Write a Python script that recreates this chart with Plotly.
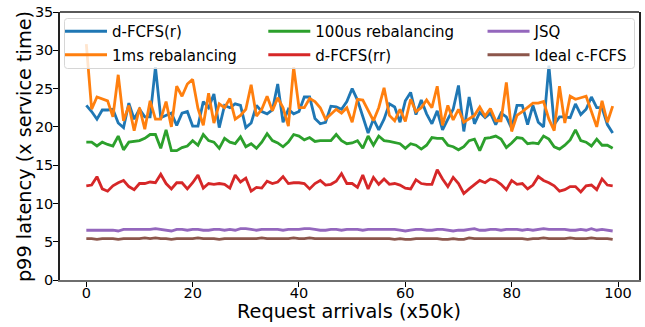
import plotly.graph_objects as go

x = list(range(100))

dfcfs_r = [22.8, 22.0, 21.0, 22.2, 22.2, 22.3, 20.5, 19.9, 23.1, 21.0,
           22.3, 21.3, 21.3, 27.8, 21.2, 21.5, 21.8, 20.2, 21.8, 22.0,
           20.1, 20.1, 23.3, 22.5, 24.3, 19.9, 22.8, 22.5, 23.0, 22.8,
           19.9, 20.5, 22.8, 22.0, 21.7, 22.2, 25.6, 20.6, 22.3, 21.7,
           22.0, 23.9, 23.9, 21.1, 20.4, 20.6, 22.7, 22.6, 22.3, 23.3,
           25.0, 23.5, 21.4, 19.2, 21.0, 19.6, 21.0, 23.0, 22.6, 20.6,
           23.4, 24.5, 21.6, 23.5, 21.7, 20.4, 22.1, 19.6, 21.0, 22.3,
           25.4, 19.4, 23.9, 20.4, 21.9, 21.2, 21.8, 20.3, 21.8, 21.3,
           19.8, 22.8, 22.8, 20.3, 22.8, 20.6, 20.0, 28.0, 20.3, 21.3,
           21.3, 21.2, 23.0, 21.6, 22.3, 23.9, 22.5, 22.5, 20.3, 19.2]

reb_1ms = [30.8, 22.3, 23.9, 23.6, 23.4, 21.3, 26.8, 20.8, 22.8, 19.5,
           22.5, 19.7, 23.4, 21.0, 21.0, 23.3, 20.0, 25.3, 24.0, 25.6,
           26.2, 22.4, 20.2, 24.4, 20.5, 23.0, 22.5, 23.7, 21.0, 21.5,
           22.3, 25.5, 21.4, 22.3, 24.0, 22.1, 23.8, 22.5, 20.1, 27.8,
           22.5, 22.5, 23.7, 23.3, 22.5, 21.0, 21.7, 22.3, 21.8, 22.5,
           20.6, 23.6, 23.5, 22.2, 20.8, 22.5, 25.1, 21.5, 20.8, 22.3,
           20.7, 23.6, 22.0, 22.5, 23.5, 22.5, 25.3, 20.2, 22.8, 20.9,
           22.3, 20.6, 21.0, 21.5, 22.6, 21.4, 22.4, 20.8, 20.8, 25.8,
           19.4, 21.5, 22.0, 22.6, 23.1, 23.1, 23.3, 21.0, 19.5, 25.3,
           20.5, 24.0, 23.6, 23.8, 24.0, 22.0, 20.0, 23.4, 20.6, 22.7]

reb_100us = [18.0, 18.0, 17.5, 18.0, 17.7, 17.5, 18.8, 17.0, 18.0, 18.1,
             18.2, 18.5, 19.0, 19.0, 17.2, 19.6, 16.9, 16.9, 17.3, 17.5,
             18.2, 17.6, 19.0, 18.2, 18.0, 17.2, 18.5, 18.0, 17.8, 18.7,
             17.4, 17.8, 17.2, 18.0, 19.1, 18.2, 17.9, 17.4, 18.0, 19.0,
             18.8, 18.3, 18.6, 18.1, 18.2, 18.2, 18.2, 19.0, 18.2, 17.8,
             17.9, 18.2, 17.2, 18.8, 17.6, 18.8, 18.2, 18.1, 17.9, 17.8,
             17.2, 17.8, 17.6, 17.1, 17.6, 18.6, 18.5, 18.5, 17.6, 17.4,
             17.0, 17.4, 18.2, 18.4, 16.9, 18.5, 18.6, 18.8, 18.4, 17.3,
             17.9, 18.6, 18.5, 17.8, 17.9, 17.8, 18.8, 18.4, 17.4, 17.1,
             17.6, 18.3, 19.6, 18.2, 18.0, 17.5, 18.4, 17.6, 17.6, 17.2]

dfcfs_rr = [12.3, 12.4, 13.5, 11.9, 11.6, 12.3, 12.7, 13.0, 12.2, 11.8,
            12.6, 12.6, 12.8, 12.7, 13.8, 12.6, 11.9, 12.7, 12.7, 11.9,
            12.7, 13.7, 12.0, 12.6, 12.5, 12.6, 12.5, 12.0, 13.7, 12.8,
            13.3, 11.6, 12.1, 12.0, 12.9, 12.6, 12.8, 13.5, 12.6, 12.7,
            12.7, 12.6, 11.9, 12.6, 13.0, 12.4, 12.5, 12.9, 13.9, 12.6,
            12.6, 12.1, 13.7, 11.9, 13.4, 12.5, 13.2, 12.5, 12.6, 12.4,
            12.0, 11.9, 13.1, 12.6, 12.5, 12.5, 14.4, 13.2, 12.2, 13.4,
            12.6, 11.3, 11.9, 12.4, 13.0, 12.7, 13.2, 13.0, 12.5, 11.8,
            13.0, 12.5, 12.6, 11.9, 12.4, 13.5, 13.0, 12.7, 12.3, 11.6,
            11.8, 12.2, 12.2, 11.5, 12.3, 12.4, 11.8, 13.2, 12.4, 12.3]

jsq = [6.5, 6.5, 6.5, 6.5, 6.5, 6.5, 6.4, 6.6, 6.6, 6.6,
       6.6, 6.6, 6.6, 6.7, 6.6, 6.5, 6.4, 6.6, 6.6, 6.5,
       6.6, 6.6, 6.5, 6.5, 6.6, 6.6, 6.5, 6.6, 6.5, 6.7,
       6.7, 6.6, 6.5, 6.6, 6.6, 6.6, 6.6, 6.5, 6.6, 6.6,
       6.6, 6.7, 6.7, 6.6, 6.5, 6.5, 6.6, 6.6, 6.5, 6.6,
       6.6, 6.6, 6.5, 6.6, 6.6, 6.6, 6.6, 6.6, 6.6, 6.5,
       6.4, 6.5, 6.6, 6.6, 6.5, 6.5, 6.6, 6.6, 6.5, 6.4,
       6.5, 6.5, 6.6, 6.7, 6.5, 6.5, 6.6, 6.6, 6.5, 6.6,
       6.6, 6.6, 6.5, 6.6, 6.5, 6.6, 6.7, 6.6, 6.6, 6.6,
       6.6, 6.5, 6.5, 6.6, 6.5, 6.7, 6.5, 6.6, 6.5, 6.4]

ideal = [5.4, 5.4, 5.3, 5.4, 5.4, 5.4, 5.3, 5.4, 5.4, 5.4,
         5.4, 5.5, 5.4, 5.5, 5.4, 5.4, 5.3, 5.4, 5.4, 5.4,
         5.4, 5.5, 5.4, 5.4, 5.4, 5.3, 5.4, 5.4, 5.4, 5.4,
         5.4, 5.4, 5.4, 5.5, 5.4, 5.4, 5.4, 5.4, 5.4, 5.5,
         5.4, 5.4, 5.5, 5.4, 5.4, 5.4, 5.4, 5.4, 5.4, 5.4,
         5.4, 5.4, 5.4, 5.4, 5.4, 5.4, 5.4, 5.4, 5.3, 5.4,
         5.3, 5.3, 5.4, 5.4, 5.4, 5.4, 5.4, 5.3, 5.3, 5.4,
         5.3, 5.3, 5.5, 5.4, 5.4, 5.4, 5.4, 5.4, 5.4, 5.4,
         5.4, 5.4, 5.4, 5.3, 5.4, 5.4, 5.5, 5.4, 5.4, 5.4,
         5.4, 5.5, 5.4, 5.4, 5.4, 5.5, 5.4, 5.4, 5.4, 5.3]

x_ticks = [0, 20, 40, 60, 80, 100]
y_ticks = [0, 5, 10, 15, 20, 25, 30, 35]
x_title = "Request arrivals (x50k)"
y_title = "p99 latency (x service time)"

series = [
    ("d-FCFS(r)", dfcfs_r, "#1f77b4", "legend"),
    ("1ms rebalancing", reb_1ms, "#ff7f0e", "legend"),
    ("100us rebalancing", reb_100us, "#2ca02c", "legend2"),
    ("d-FCFS(rr)", dfcfs_rr, "#d62728", "legend2"),
    ("JSQ", jsq, "#9467bd", "legend3"),
    ("Ideal c-FCFS", ideal, "#8c564b", "legend3"),
]

fig = go.Figure()
for name, vals, color, leg in series:
    fig.add_trace(go.Scatter(
        x=x, y=vals, mode="lines", name=name,
        line=dict(color=color, width=2.8),
        legend=leg, legendgroup=name,
    ))

font = "DejaVu Sans"
W, H = 645, 327
L, R, T, B = 60, 4, 12, 47
pw, ph = W - L - R, H - T - B


def px_x(p):
    return (p - L) / pw


def px_y(p):
    return 1 - (p - T) / ph


leg_common = dict(
    orientation="v", yanchor="top", xanchor="left",
    bgcolor="rgba(0,0,0,0)", borderwidth=0,
    font=dict(family=font, size=15, color="black"),
    tracegroupgap=1, itemwidth=42,
)

fig.update_layout(
    width=W, height=H,
    margin=dict(l=L, r=R, t=T, b=B),
    paper_bgcolor="white", plot_bgcolor="white",
    font=dict(family=font, size=14.5, color="black"),
    showlegend=True,
    legend=dict(x=px_x(60), y=px_y(15), **leg_common),
    legend2=dict(x=px_x(264), y=px_y(15), **leg_common),
    legend3=dict(x=px_x(484), y=px_y(15), **leg_common),
    shapes=[
        dict(type="path", xref="paper", yref="paper", layer="above",
             path=(f"M {px_x(67.5)},{px_y(18.5)} L {px_x(633.5)},{px_y(18.5)} "
                   f"Q {px_x(636.5)},{px_y(18.5)} {px_x(636.5)},{px_y(21.5)} "
                   f"L {px_x(636.5)},{px_y(65.5)} "
                   f"Q {px_x(636.5)},{px_y(68.5)} {px_x(633.5)},{px_y(68.5)} "
                   f"L {px_x(67.5)},{px_y(68.5)} "
                   f"Q {px_x(64.5)},{px_y(68.5)} {px_x(64.5)},{px_y(65.5)} "
                   f"L {px_x(64.5)},{px_y(21.5)} "
                   f"Q {px_x(64.5)},{px_y(18.5)} {px_x(67.5)},{px_y(18.5)} Z"),
             line=dict(color="#d6d6d6", width=1),
             fillcolor="rgba(255,255,255,0.8)"),
        dict(type="line", xref="paper", yref="paper", layer="above",
             x0=0, x1=1, y0=1, y1=1, line=dict(color="#222", width=1.5)),
    ],
    annotations=[
        dict(text=x_title, xref="paper", yref="paper",
             x=px_x(350), y=px_y(311), xanchor="center", yanchor="middle",
             showarrow=False, font=dict(family=font, size=19.3, color="black")),
        dict(text=y_title, xref="paper", yref="paper", textangle=-90,
             x=px_x(24), y=px_y(147), xanchor="center", yanchor="middle",
             showarrow=False, font=dict(family=font, size=19.3, color="black")),
    ],
    xaxis=dict(
        range=[-4.95, 103.95], tickvals=x_ticks,
        showgrid=False, zeroline=False,
        showline=True, linecolor="#6e6e6e", linewidth=2, mirror=False,
        ticks="outside", ticklen=5, tickcolor="black", tickwidth=1,
        ticklabelstandoff=-6,
        tickfont=dict(size=14.5),
    ),
    yaxis=dict(
        range=[0, 35], tickvals=y_ticks,
        showgrid=False, zeroline=False,
        showline=True, linecolor="#222", linewidth=1.5, mirror=True,
        ticks="outside", ticklen=5, tickcolor="black", tickwidth=1,
        ticklabelstandoff=-3,
        tickfont=dict(size=14.5),
    ),
)

fig.write_html(
    "out.html",
    config={"displayModeBar": False},
    post_script="document.body.style.margin='0px';document.body.style.overflow='hidden';",
)
